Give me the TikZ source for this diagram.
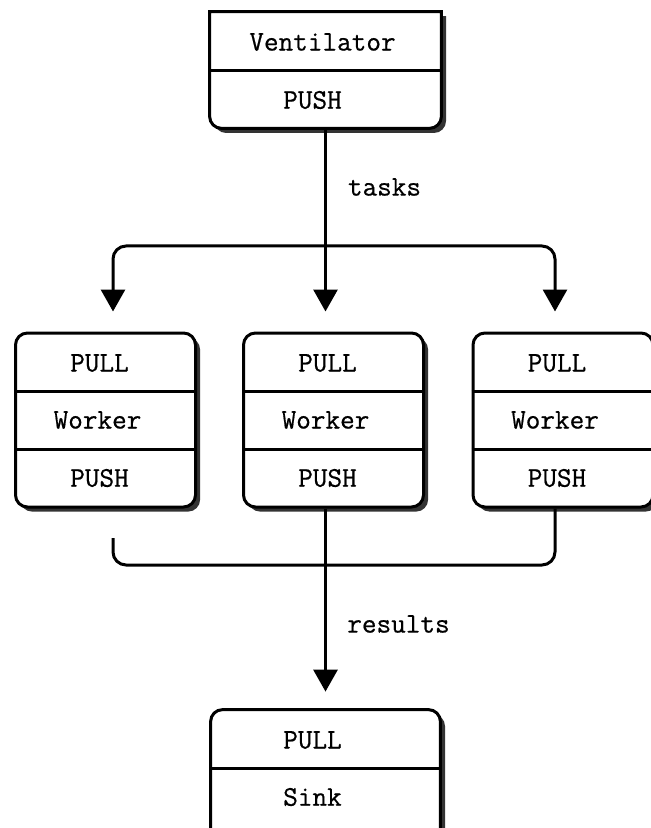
\documentclass[tikz,border=0pt]{standalone}
\usepackage{fontspec}
\setmonofont[FakeBold=0.6]{Latin Modern Mono}
\usetikzlibrary{arrows.meta,shadows}

\tikzset{
  boxline/.style={draw, line width=1.5pt, fill=white,
    drop shadow={shadow xshift=2.3pt, shadow yshift=-2.3pt, fill=black!80, opacity=1}},
  box/.style={boxline, rounded corners=6pt, minimum width=90pt, minimum height=87pt, inner sep=0pt},
  divider/.style={line width=1.5pt},
  lbl/.style={font=\ttfamily\fontsize{14.2pt}{17pt}\selectfont, inner sep=1pt},
  flow/.style={line width=1.5pt, -{Triangle[width=12pt,length=11pt]}},
  link/.style={line width=1.5pt, rounded corners=6.5pt}
}

\begin{document}
\begin{tikzpicture}[x=0.5pt,y=-0.5pt]
      \useasboundingbox (0,0) rectangle (651,828);
      % ventilator
      \node[minimum width=115.5pt, minimum height=58pt, inner sep=0pt] (vent) at (325.5,70) {};
      \path[boxline] (vent.north west) -- (vent.north east) -- (vent.east) [rounded corners=6pt] -- (vent.south east) -- (vent.south west) -- (vent.west) [sharp corners] -- cycle;
      \draw[divider] (vent.west |- 0,71) -- (vent.east |- 0,71);
      \node[lbl] (ventname) at (322.5,42) {Ventilator};
      \node[lbl] (ventpush) at (312.5,100) {PUSH};
      % workers
      \foreach \n/\x in {1/105.5, 2/333.5, 3/563} {
        \node[box] (w\n) at (\x,420) {};
        \draw[divider] (w\n.west |- 0,391) -- (w\n.east |- 0,391);
        \draw[divider] (w\n.west |- 0,449) -- (w\n.east |- 0,449);
        \node[lbl] (w\n-pull) at (\x-6,363) {PULL};
        \node[lbl] (w\n-name) at (\x-8,420) {Worker};
        \node[lbl] (w\n-push) at (\x-6,478) {PUSH};
      }
      % sink
      \node[minimum width=114.5pt, minimum height=70pt, inner sep=0pt] (sink) at (325.5,780) {};
      \path[boxline] (sink.south west) -- (sink.west) [rounded corners=6pt] -- (sink.north west) -- (sink.north east) -- (sink.east) [sharp corners] -- (sink.south east) -- cycle;
      \draw[divider] (sink.west |- 0,768) -- (sink.east |- 0,768);
      \node[lbl] (sinkpull) at (312.5,740) {PULL};
      \node[lbl] (sinkname) at (312.5,797) {Sink};
      % tasks
      \coordinate (fork) at (326,246);
      \draw[flow, shorten >=10pt] (vent.south) -- (vent.south |- w2.north);
      \draw[flow, link, shorten >=10pt] (fork) -| ([xshift=3.75pt]w1.north);
      \draw[flow, link, shorten >=10pt] (fork) -| ([xshift=-4pt]w3.north);
      \node[lbl] (tasks) at (384.5,187) {tasks};
      % results
      \coordinate (rstart) at (113,538);
      \coordinate (merge) at (326,565);
      \draw[link] (rstart) |- ([xshift=-4pt]w3.south |- merge) -- ([xshift=-4pt]w3.south);
      \draw[flow, shorten >=9pt] (sink.north |- w2.south) -- (sink.north);
      \node[lbl] (results) at (398.5,624) {results};
    \end{tikzpicture}
\end{document}
